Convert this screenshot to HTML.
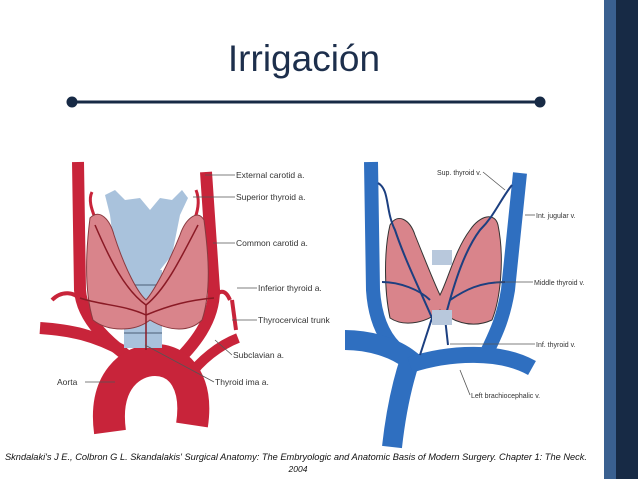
<!DOCTYPE html>
<html><head><meta charset="utf-8"><style>
html,body{margin:0;padding:0;background:#fff;}
body{width:638px;height:479px;position:relative;overflow:hidden;font-family:"Liberation Sans",sans-serif;}
.t{position:absolute;font-family:"Liberation Sans",sans-serif;}
</style></head><body>
<div style="position:absolute;left:604px;top:0;width:12px;height:479px;background:#3a6090;"></div>
<div style="position:absolute;left:616px;top:0;width:22px;height:479px;background:#172a45;"></div>
<div class="t" style="left:0;width:608px;top:38px;text-align:center;font-size:37px;color:#1d2f4c;">Irrigación</div>
<svg width="638" height="479" style="position:absolute;left:0;top:0" font-family="Liberation Sans Narrow, Liberation Sans, sans-serif">
<line x1="72" y1="102" x2="540" y2="102" stroke="#172a45" stroke-width="3"/>
<circle cx="72" cy="102" r="5.5" fill="#172a45"/><circle cx="540" cy="102" r="5.5" fill="#172a45"/>
<g fill="none" stroke="#c8243a" stroke-linecap="butt">
<path d="M40 328 C70 330 95 335 125 352" stroke-width="12"/>
<path d="M78 162 L80 290 C82 320 110 345 140 365" stroke-width="12"/>
<path d="M206 172 L214 290 C214 320 195 345 170 368" stroke-width="12"/>
<path d="M238 338 C220 345 200 360 188 378" stroke-width="10"/>
<path d="M110 432 C103 380 132 360 155 360 C182 360 198 385 192 425" stroke-width="32"/>
<path d="M52 300 C62 290 75 292 80 300" stroke-width="4"/>
<path d="M230 300 C225 288 218 290 214 300" stroke-width="4"/>
<path d="M232 300 L236 330" stroke-width="4"/>
<path d="M92 192 C88 200 92 210 95 218" stroke-width="3"/>
<path d="M196 190 C200 200 198 210 195 218" stroke-width="3"/>
</g>
<path d="M105 195 L115 190 L125 200 L140 198 L150 210 L160 198 L172 200 L182 190 L188 198 L180 215 L172 255 L160 270 L125 270 L115 255 L110 215 Z" fill="#a9c2dc"/>
<rect x="124" y="270" width="38" height="78" fill="#a9c2dc"/>
<g stroke="#6a7f98" stroke-width="1.5"><line x1="124" y1="285" x2="162" y2="285"/><line x1="124" y1="300" x2="162" y2="300"/><line x1="124" y1="318" x2="162" y2="318"/><line x1="124" y1="333" x2="162" y2="333"/></g>
<path d="M90 218 C100 208 110 220 114 235 C122 260 135 290 146 300 C155 290 170 260 180 235 C185 220 197 208 204 220 C208 250 212 290 202 320 C190 332 170 332 150 320 C135 332 108 332 93 320 C84 290 86 250 90 218 Z" fill="#d9848b" stroke="#8a3a40" stroke-width="1"/>
<g fill="none" stroke="#8a1a25" stroke-width="1.5"><path d="M95 225 C110 260 125 290 146 305 C165 290 180 260 198 225"/><path d="M80 298 C100 305 125 305 146 315 C170 305 190 300 214 298"/><path d="M146 305 L146 350"/></g>
<g fill="none" stroke="#2f6fc0" stroke-linecap="butt">
<path d="M371 162 L373 290 C375 320 385 340 400 352" stroke-width="14"/>
<path d="M520 173 L508 290 C503 320 495 335 488 350" stroke-width="14"/>
<path d="M345 340 C370 340 395 348 410 360 C400 390 395 420 392 447" stroke-width="20"/>
<path d="M410 365 C450 352 500 350 532 368" stroke-width="16"/>
</g>
<path d="M390 225 C398 212 410 220 415 235 C425 260 435 285 440 295 C448 280 455 250 470 230 C480 215 495 212 498 225 C505 260 500 300 492 320 C470 330 450 320 440 310 C430 322 405 328 390 318 C384 290 384 250 390 225 Z" fill="#d9848b" stroke="#333" stroke-width="1"/>
<g fill="none" stroke="#1c3f80" stroke-width="2"><path d="M378 183 C390 190 385 210 395 230 C405 260 420 290 432 318 L420 355"/><path d="M512 185 C500 200 495 215 480 230 C465 250 455 280 445 318 L448 345"/><path d="M382 282 C400 282 420 290 430 300"/><path d="M505 282 C480 282 465 290 450 300"/></g>
<rect x="432" y="250" width="20" height="15" fill="#b8c8dc"/><rect x="432" y="310" width="20" height="15" fill="#b8c8dc"/>
<g stroke="#555" stroke-width="0.8" fill="none">
<line x1="205" y1="175" x2="235" y2="175"/><line x1="193" y1="197" x2="235" y2="197"/><line x1="213" y1="243" x2="235" y2="243"/>
<line x1="237" y1="288" x2="257" y2="288"/><line x1="232" y1="320" x2="257" y2="320"/><line x1="215" y1="340" x2="232" y2="355"/>
<line x1="85" y1="382" x2="115" y2="382"/><line x1="145" y1="345" x2="214" y2="382"/>
<line x1="483" y1="172" x2="505" y2="190"/><line x1="525" y1="215" x2="535" y2="215"/><line x1="495" y1="282" x2="533" y2="282"/>
<line x1="450" y1="344" x2="535" y2="344"/><line x1="460" y1="370" x2="470" y2="395"/>
</g>
<g fill="#333" font-size="8.5">
<text x="236" y="178">External carotid a.</text>
<text x="236" y="200">Superior thyroid a.</text>
<text x="236" y="246">Common carotid a.</text>
<text x="258" y="291">Inferior thyroid a.</text>
<text x="258" y="323">Thyrocervical trunk</text>
<text x="233" y="358">Subclavian a.</text>
<text x="57" y="385">Aorta</text>
<text x="215" y="385">Thyroid ima a.</text>
<text x="437" y="175" font-size="7">Sup. thyroid v.</text>
<text x="536" y="218" font-size="7">Int. jugular v.</text>
<text x="534" y="285" font-size="7">Middle thyroid v.</text>
<text x="536" y="347" font-size="7">Inf. thyroid v.</text>
<text x="471" y="398" font-size="7">Left brachiocephalic v.</text>
</g>
<text x="5" y="460" font-size="9.2" font-style="italic" fill="#111" font-family="Liberation Sans, sans-serif" textLength="582" lengthAdjust="spacingAndGlyphs">Skndalaki's J E., Colbron G L. Skandalakis' Surgical Anatomy: The Embryologic and Anatomic Basis of Modern Surgery. Chapter 1: The Neck.</text>
<text x="298" y="472" font-size="8.5" font-style="italic" fill="#111" text-anchor="middle" font-family="Liberation Sans, sans-serif">2004</text>
</svg>
</body></html>
